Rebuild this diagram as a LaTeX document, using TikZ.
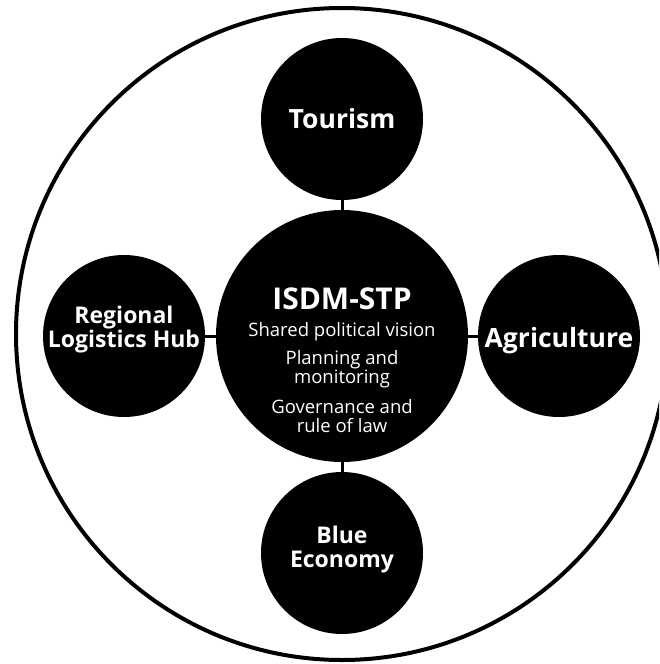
\documentclass[tikz,border=0pt]{standalone}
\usepackage{fontspec}
\setmainfont{Open Sans}
\begin{document}
\begin{tikzpicture}[x=1pt,y=-1pt,
  pillar/.style={circle,fill=black,draw=none,inner sep=0pt,minimum size=162pt},
  hubcore/.style={circle,fill=black,draw=none,inner sep=0pt,minimum size=252pt},
  link/.style={line width=3pt,draw=black},
  ring/.style={circle,draw=black,line width=4pt,fill=none,inner sep=0pt,minimum size=652pt},
  bigword/.style={text=white,anchor=base,inner sep=0pt,font=\fontsize{26.5}{26.5}\selectfont\bfseries},
  twoword/.style={text=white,anchor=base,inner sep=0pt,font=\fontsize{23}{23}\selectfont\bfseries},
  coretitle/.style={text=white,anchor=base,inner sep=0pt,font=\fontsize{30}{30}\selectfont\bfseries},
  coreline/.style={text=white,anchor=base,inner sep=0pt,font=\fontsize{18.5}{18.5}\selectfont},
]
\useasboundingbox (0,0) rectangle (659,664);
\clip (0,0) rectangle (659,664);

% enclosing ring
\node[ring] (frame) at (342,334) {};

% central circle and the four pillars
\node[hubcore] (core) at (342,336) {};
\node[pillar] (tour) at (342,119) {};
\node[pillar] (agri) at (559,336) {};
\node[pillar] (logi) at (124,336) {};
\node[pillar] (blue) at (342,553) {};

% connectors
\draw[link] (tour) -- (core);
\draw[link] (blue) -- (core);
\draw[link] (logi) -- (core);
\draw[link] (agri) -- (core);

% labels
\node[bigword] (tour-t) at (342,128) {Tourism};
\node[bigword] (agri-t) at (559,347) {Agriculture};
\node[twoword] (logi-t1) at (124,323) {Regional};
\node[twoword] (logi-t2) at (124,347) {Logistics Hub};
\node[twoword] (blue-t1) at (342,543) {Blue};
\node[twoword] (blue-t2) at (342,567) {Economy};

\node[coretitle] (core-t) at (342,309) {ISDM-STP};
\node[coreline] (core-l1) at (342,336) {Shared political vision};
\node[coreline] (core-l2) at (342,364) {Planning and};
\node[coreline] (core-l3) at (342,383) {monitoring};
\node[coreline] (core-l4) at (342,413) {Governance and};
\node[coreline] (core-l5) at (342,432) {rule of law};
\end{tikzpicture}
\end{document}
